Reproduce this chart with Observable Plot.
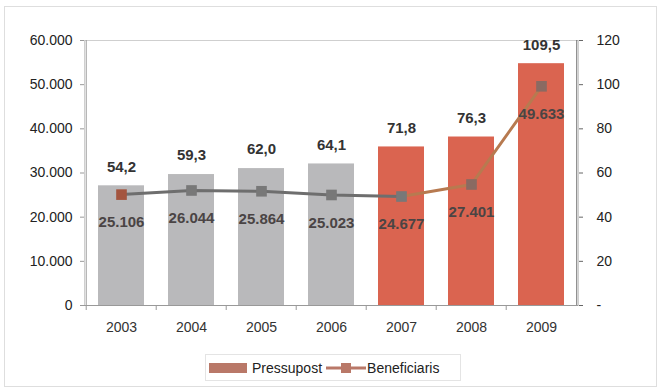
<!DOCTYPE html>
<html><head><meta charset="utf-8">
<script src="https://cdn.jsdelivr.net/npm/d3@7"></script>
<script src="https://cdn.jsdelivr.net/npm/@observablehq/plot@0.6"></script>
<style>
body{margin:0;background:#fff;font-family:"Liberation Sans",Arial,sans-serif;}
#wrap{position:relative;width:661px;height:388px;overflow:hidden;background:#fff;}
#frame{position:absolute;left:4px;top:6px;width:653px;height:381px;border:1px solid #dedede;box-sizing:border-box;}
#chart{position:absolute;left:0;top:0;}
#legend{position:absolute;left:205px;top:354px;width:256px;height:27px;border:1px solid #e4e4e4;box-sizing:border-box;display:flex;align-items:center;font-size:14px;color:#222;}
</style></head>
<body>
<div id="wrap"><div id="frame"></div><div id="chart"></div>
<div id="legend">
<svg width="40" height="12" style="margin-left:3px"><rect x="0" y="1" width="38" height="10" fill="#b97868"/></svg>
<span style="margin-left:3px">Pressupost</span>
<svg width="40" height="12" style="margin-left:4px"><line x1="0" y1="6" x2="40" y2="6" stroke="#b97868" stroke-width="3"/><rect x="15" y="1" width="10" height="10" fill="#b97868"/></svg>
<span style="margin-left:1px">Beneficiaris</span>
</div>
</div>
<script>
const years = ["2003","2004","2005","2006","2007","2008","2009"];
const pressupost = [54.2, 59.3, 62.0, 64.1, 71.8, 76.3, 109.5];
const beneficiaris = [25106, 26044, 25864, 25023, 24677, 27401, 49633];
const leftTicks = [0, 10000, 20000, 30000, 40000, 50000, 60000];
const rightTicks = [0, 20, 40, 60, 80, 100, 120];

const W = 661, H = 345, mL = 84, mR = 83, mT = 40, mB = 40;
const ratio = 60000 / 120;
const step = (W - mL - mR) / years.length;

const rows = years.map((y, i) => ({year: y, p: pressupost[i], b: beneficiaris[i], i}));
const barColor = d => (+d.year <= 2006 ? "#b9b9bb" : "#da6450");
const dotColor = d => (d.i === 0 ? "#a4553f" : d.i >= 5 ? "#8a6a62" : "#787878");
const segA = rows.filter(d => d.i <= 4);
const segB = rows.filter(d => d.i >= 4);
const fmtThousands = v => d3.format(",")(v).replace(/,/g, ".");
const fmtDec = v => v.toFixed(1).replace(".", ",");

const plot = Plot.plot({
  width: W, height: H,
  marginLeft: mL, marginRight: mR, marginTop: mT, marginBottom: mB,
  style: {fontFamily: "Liberation Sans, Arial, sans-serif", fontSize: "14px", color: "#222", background: "transparent"},
  x: {type: "band", domain: years, paddingInner: 0.35, paddingOuter: 0.175, label: null},
  y: {domain: [0, 60000], label: null},
  marks: [
    Plot.frame({stroke: "#cfcfcf"}),
    Plot.barY(rows, {x: "year", y: d => d.p * ratio, fill: barColor}),
    Plot.ruleX(years.slice(0, 1), {x: d => d, dx: -step / 2, stroke: "#9a9a9a"}),
    Plot.ruleX(years.slice(-1), {x: d => d, dx: step / 2, stroke: "#666"}),
    Plot.ruleY([0], {stroke: "#999"}),
    Plot.axisY({anchor: "left", ticks: leftTicks, tickFormat: fmtThousands, tickSize: 4, tickPadding: 8, stroke: "#999", fontSize: 14}),
    Plot.axisY({anchor: "right", ticks: leftTicks, tickFormat: v => (v === 0 ? "-" : String(v / ratio)), tickSize: 4, tickPadding: 14, textAnchor: "start", stroke: "#666", fontSize: 14}),
    Plot.axisX({ticks: years, text: null, tickSize: 5, dx: -step / 2, stroke: "#999"}),
    Plot.axisX({ticks: years, tickSize: 0, tickPadding: 17, fontSize: 14, fill: "#333"}),
    Plot.line(segA, {x: "year", y: "b", stroke: "#6e6e6e", strokeWidth: 3}),
    Plot.line(segB, {x: "year", y: "b", stroke: "#b77a50", strokeWidth: 3}),
    Plot.dot(rows, {x: "year", y: "b", symbol: "square", r: 6, fill: dotColor, stroke: null}),
    Plot.text(rows, {x: "year", y: d => d.p * ratio, text: d => fmtDec(d.p), dy: -19, fontWeight: "bold", fontSize: 15, fill: "#333"}),
    Plot.text(rows, {x: "year", y: "b", text: d => fmtThousands(d.b), dy: 28, fontWeight: "bold", fontSize: 15, fill: "#4a4444"})
  ]
});
document.getElementById("chart").appendChild(plot);
</script>
</body></html>
